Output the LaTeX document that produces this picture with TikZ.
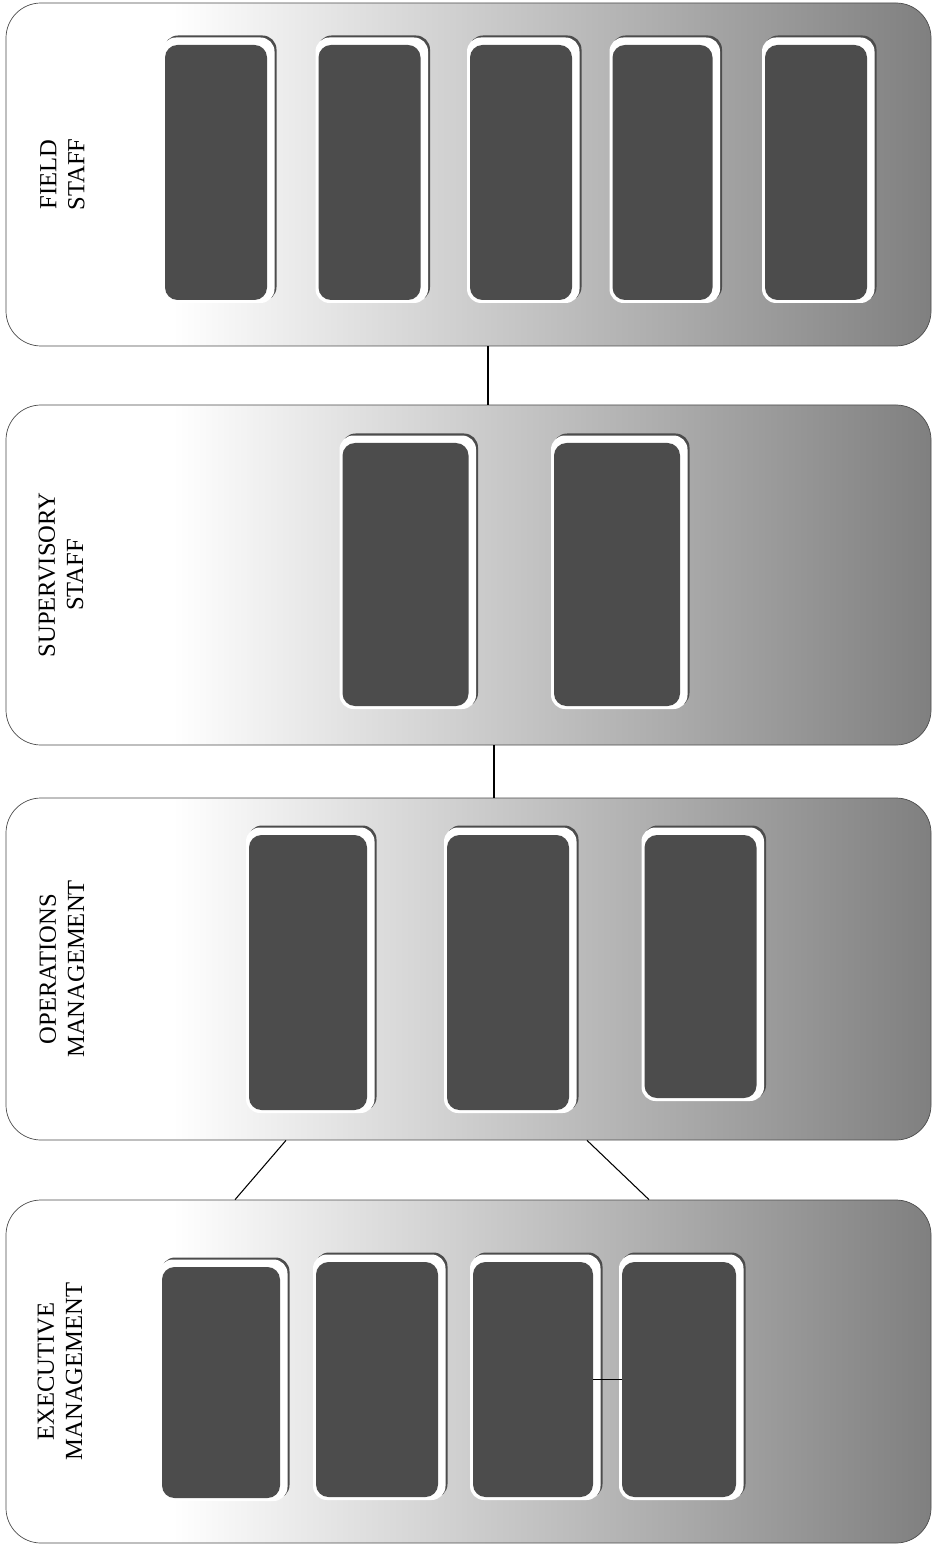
\documentclass[tikz,border=0pt]{standalone}
\usepackage{fontspec}
\setmainfont{Liberation Serif}

% white on the label side, grey towards the right
\pgfdeclarehorizontalshading{panelshade}{100bp}{color(0bp)=(white); color(25bp)=(white); color(34bp)=(white); color(75bp)=(black!50); color(100bp)=(black!50)}

\tikzset{
  panel/.style={draw=black!70, line width=0.4pt, rounded corners=0.7cm, shade, shading=panelshade, minimum width=18.5cm, inner sep=0pt},
  member/.style={fill=black!70, rounded corners=0.25cm, inner sep=0pt},
  ringedge/.style={fill=black!70, rounded corners=0.28cm},
  ringfill/.style={fill=white, rounded corners=0.28cm},
  tier/.style={rotate=90, align=center, font=\fontsize{14}{16}\selectfont},
  link/.style={draw=black, line width=0.6pt},
}

\begin{document}
\begin{tikzpicture}
	\useasboundingbox (0,0) rectangle (18.68,-30.90);

	% the four tiers
	\node[panel, minimum height=6.86cm] (field) at (9.37,-3.49) {};
	\node[panel, minimum height=6.80cm] (superv) at (9.37,-11.50) {};
	\node[panel, minimum height=6.84cm] (ops) at (9.37,-19.38) {};
	\node[panel, minimum height=6.86cm] (exec) at (9.37,-27.43) {};

	\node[tier] (fieldlabel) at (1.25,-3.49) {FIELD\\STAFF};
	\node[tier] (supervlabel) at (1.22,-11.50) {SUPERVISORY\\STAFF};
	\node[tier] (opslabel) at (1.24,-19.38) {OPERATIONS\\MANAGEMENT};
	\node[tier] (execlabel) at (1.20,-27.43) {EXECUTIVE\\MANAGEMENT};

	% boxes inside the tiers, each with its white raised edge
	\foreach \n/\x/\y/\w/\h in {f1/4.32/-3.45/2.04/5.10, f2/7.39/-3.45/2.04/5.10,
			f3/10.42/-3.45/2.04/5.10, f4/13.25/-3.45/2.00/5.10, f5/16.32/-3.45/2.04/5.10,
			s1/8.11/-11.49/2.52/5.26, s2/12.34/-11.49/2.52/5.26,
			o1/6.16/-19.45/2.36/5.50, o2/10.16/-19.45/2.44/5.50, o3/14.01/-19.33/2.24/5.26,
			e1/4.42/-27.65/2.36/4.62, e2/7.54/-27.59/2.44/4.70,
			e3/10.66/-27.59/2.40/4.70, e4/13.58/-27.59/2.28/4.70}
	{
		\fill[ringedge] (\x-\w/2-0.02,\y-\h/2-0.02) rectangle (\x+\w/2+0.19,\y+\h/2+0.19);
		\fill[ringfill] (\x-\w/2-0.06,\y-\h/2-0.06) rectangle (\x+\w/2+0.15,\y+\h/2+0.15);
		\node[member, minimum width=\w cm, minimum height=\h cm] (\n) at (\x,\y) {};
	}

	% connectors
	\draw[link] ([xshift=0.39cm]field.south) -- ([xshift=0.39cm]superv.north);
	\draw[link] ([xshift=0.51cm]superv.south) -- ([xshift=0.51cm]ops.north);
	\draw[link] ([xshift=-3.65cm]ops.south) -- ([xshift=-4.67cm]exec.north);
	\draw[link] ([xshift=2.37cm]ops.south) -- ([xshift=3.61cm]exec.north);
	\draw[link] (e3) -- (e4);
\end{tikzpicture}
\end{document}
